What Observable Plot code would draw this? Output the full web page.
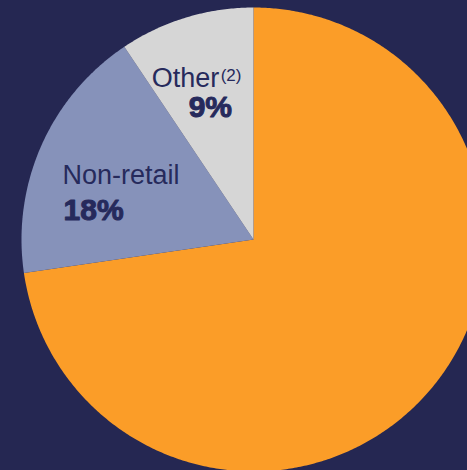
<!DOCTYPE html>
<html>
<head>
<meta charset="utf-8">
<script src="https://cdn.jsdelivr.net/npm/d3@7"></script>
<script src="https://cdn.jsdelivr.net/npm/@observablehq/plot@0.6"></script>
<style>
  html, body { margin: 0; padding: 0; background: #252752; overflow: hidden; }
  #chart svg { display: block; }
</style>
</head>
<body>
<div id="chart"></div>
<script>
// ---- data ----
const categories = ["Retail", "Non-retail", "Other"];
const shares = [72.7, 17.9, 9.4];
const nameLabels = ["", "Non-retail", "Other"];
const pctLabels = ["", "18%", "9%"];
const footnotes = ["", "", "(2)"];
const colors = ["#FB9D28", "#8692BA", "#D6D6D6"];

// ---- geometry derived from data ----
const R = 232;
const total = d3.sum(shares);
let acc = 0;
const slices = categories.map((c, i) => {
  const a0 = acc / total * 2 * Math.PI;
  acc += shares[i];
  const a1 = acc / total * 2 * Math.PI;
  return {category: c, a0, a1, mid: (a0 + a1) / 2, i};
});
const polyPts = [];
for (const s of slices) {
  polyPts.push({category: s.category, x: 0, y: 0});
  const n = Math.max(2, Math.ceil((s.a1 - s.a0) / (Math.PI / 360)));
  for (let k = 0; k <= n; k++) {
    const a = s.a0 + (s.a1 - s.a0) * k / n;
    polyPts.push({category: s.category, x: R * Math.sin(a), y: R * Math.cos(a)});
  }
  polyPts.push({category: s.category, x: 0, y: 0});
}
const anchors = slices.map(s => ({
  ...s,
  x: 0.62 * R * Math.sin(s.mid),
  y: 0.62 * R * Math.cos(s.mid),
  name: nameLabels[s.i], pct: pctLabels[s.i], note: footnotes[s.i]
}));
const other = anchors.filter(d => d.category === "Other");
const nonRetail = anchors.filter(d => d.category === "Non-retail");

const font = "Liberation Sans, Arial, sans-serif";
const ink = "#262A5C";

const chart = Plot.plot({
  width: 467,
  height: 470,
  margin: 0,
  style: {background: "#252752", fontFamily: font},
  x: {domain: [-253, 214], range: [0, 467], axis: null},
  y: {domain: [-231, 239], range: [470, 0], axis: null},
  color: {domain: categories, range: colors},
  marks: [
    Plot.line(polyPts, {x: "x", y: "y", z: "category", fill: "category", stroke: "none"}),
    // Other
    Plot.text(other, {x: "x", y: "y", text: "name", textAnchor: "start", lineAnchor: "bottom",
      dx: -60, dy: -15, fontSize: 27, fill: ink, fontFamily: font}),
    Plot.text(other, {x: "x", y: "y", text: "note", textAnchor: "start", lineAnchor: "bottom",
      dx: 9, dy: -21, fontSize: 17, fill: ink, fontFamily: font}),
    Plot.text(other, {x: "x", y: "y", text: "pct", textAnchor: "start", lineAnchor: "bottom",
      dx: -23, dy: 15, fontSize: 30, fontWeight: "bold", fill: ink, stroke: ink, strokeWidth: 1, fontFamily: font}),
    // Non-retail
    Plot.text(nonRetail, {x: "x", y: "y", text: "name", textAnchor: "start", lineAnchor: "bottom",
      dx: -59.5, dy: 2.4, fontSize: 27, fill: ink, fontFamily: font}),
    Plot.text(nonRetail, {x: "x", y: "y", text: "pct", textAnchor: "start", lineAnchor: "bottom",
      dx: -58.5, dy: 38.4, fontSize: 30, fontWeight: "bold", fill: ink, stroke: ink, strokeWidth: 1, fontFamily: font})
  ]
});
document.getElementById("chart").appendChild(chart);
</script>
</body>
</html>
